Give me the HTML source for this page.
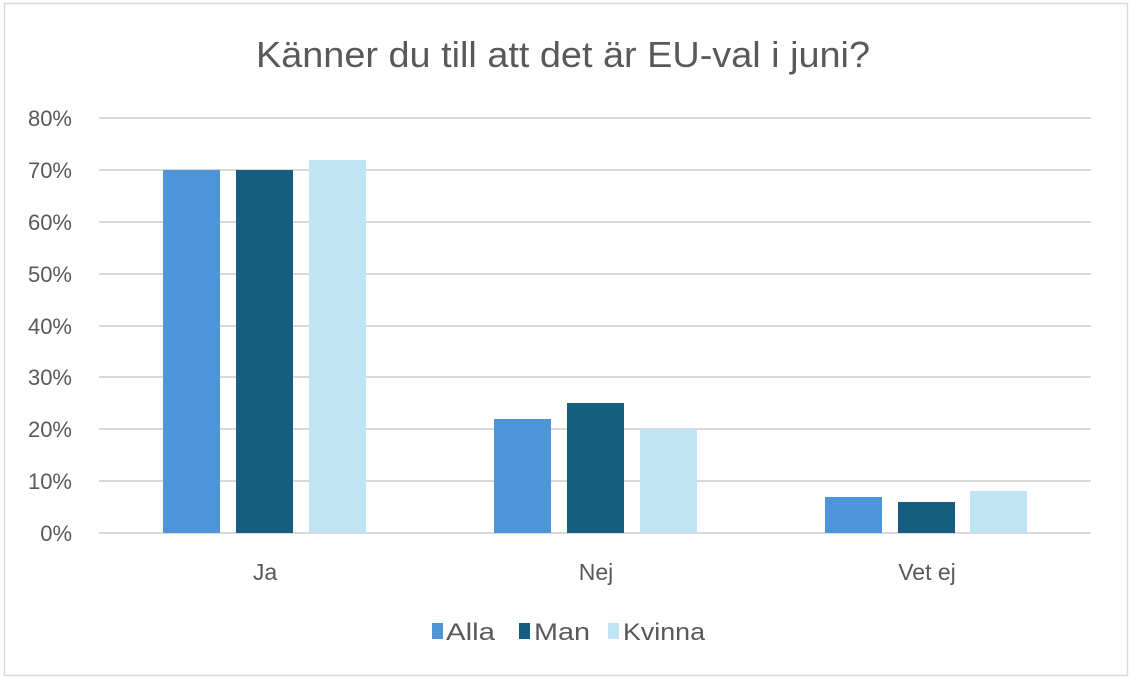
<!DOCTYPE html>
<html><head><meta charset="utf-8"><style>
body{margin:0;background:#fff;}
svg{display:block;font-family:"Liberation Sans",sans-serif;}
</style></head><body>
<svg width="1136" height="687" viewBox="0 0 1136 687">
<rect x="0" y="0" width="1136" height="687" fill="#fff"/>
<rect x="4.5" y="3.5" width="1123" height="672" fill="#fff" stroke="#d9d9d9" stroke-width="1.5"/>
<text x="256" y="67" font-size="36" fill="#595959" textLength="614" lengthAdjust="spacingAndGlyphs">Känner du till att det är EU-val i juni?</text>
<g stroke="#d9d9d9" stroke-width="2">
<line x1="99" x2="1091" y1="118" y2="118"/>
<line x1="99" x2="1091" y1="170" y2="170"/>
<line x1="99" x2="1091" y1="222" y2="222"/>
<line x1="99" x2="1091" y1="274" y2="274"/>
<line x1="99" x2="1091" y1="326" y2="326"/>
<line x1="99" x2="1091" y1="377" y2="377"/>
<line x1="99" x2="1091" y1="429" y2="429"/>
<line x1="99" x2="1091" y1="481" y2="481"/>
<line x1="99" x2="1091" y1="533" y2="533"/>
</g>
<g font-size="22" fill="#595959" text-anchor="end">
<text x="72" y="126">80%</text><text x="72" y="178">70%</text><text x="72" y="230">60%</text>
<text x="72" y="282">50%</text><text x="72" y="334">40%</text><text x="72" y="385">30%</text>
<text x="72" y="437">20%</text><text x="72" y="489">10%</text><text x="72" y="541">0%</text>
</g>
<g>
<rect x="163" y="170" width="57" height="363" fill="#4E94D9"/>
<rect x="236" y="170" width="57" height="363" fill="#165E80"/>
<rect x="309" y="160" width="57" height="373" fill="#C1E4F5"/>
<rect x="494" y="419" width="57" height="114" fill="#4E94D9"/>
<rect x="567" y="403" width="57" height="130" fill="#165E80"/>
<rect x="640" y="429" width="57" height="104" fill="#C1E4F5"/>
<rect x="825" y="497" width="57" height="36" fill="#4E94D9"/>
<rect x="898" y="502" width="57" height="31" fill="#165E80"/>
<rect x="970" y="491" width="57" height="42" fill="#C1E4F5"/>
</g>
<g font-size="23" fill="#595959" text-anchor="middle">
<text x="265" y="580">Ja</text><text x="596" y="580">Nej</text><text x="927" y="580">Vet ej</text>
</g>
<g font-size="24" fill="#595959">
<rect x="432" y="623" width="11" height="16" fill="#4E94D9"/><text x="446" y="640" textLength="49" lengthAdjust="spacingAndGlyphs">Alla</text>
<rect x="519" y="623" width="11" height="16" fill="#165E80"/><text x="534" y="640" textLength="56" lengthAdjust="spacingAndGlyphs">Man</text>
<rect x="608" y="623" width="11" height="16" fill="#C1E4F5"/><text x="623" y="640" textLength="82" lengthAdjust="spacingAndGlyphs">Kvinna</text>
</g>
</svg>
</body></html>
